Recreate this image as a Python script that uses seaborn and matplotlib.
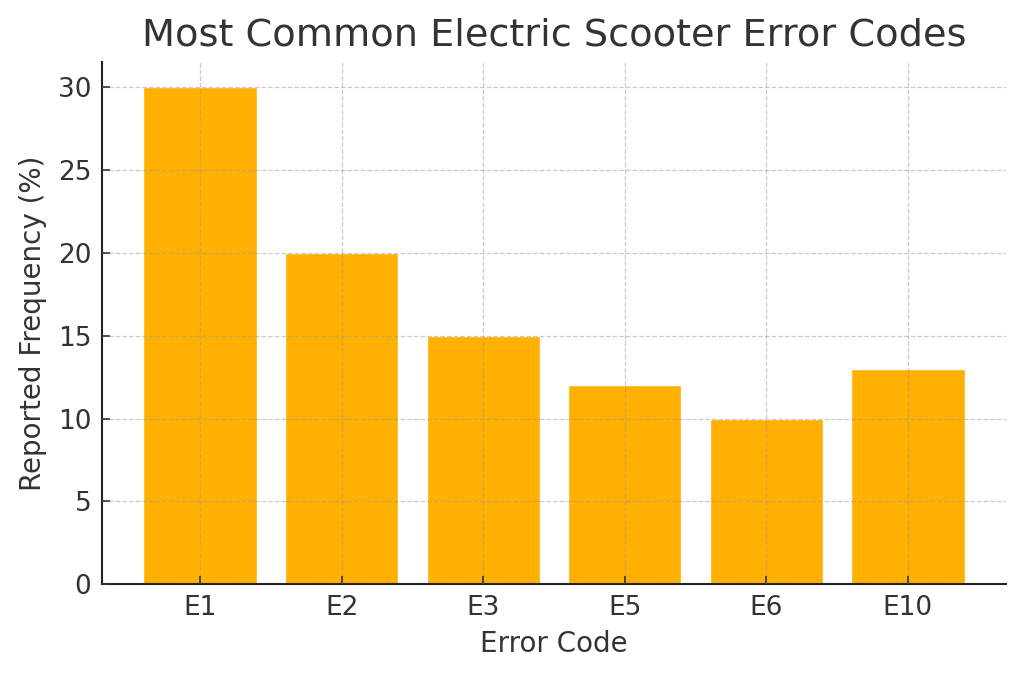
import matplotlib
matplotlib.use("Agg")
import matplotlib.pyplot as plt
import seaborn as sns
import pandas as pd

codes = ["E1", "E2", "E3", "E5", "E6", "E10"]
freq = [30, 20, 15, 12, 10, 13]

sns.set_theme(style="white")
plt.rcParams['font.family'] = ['DejaVu Sans']
text_color = "#333333"

df = pd.DataFrame({"Error Code": codes, "Reported Frequency (%)": freq})

fig, ax = plt.subplots(figsize=(10.24, 6.77), dpi=100)
sns.barplot(data=df, x="Error Code", y="Reported Frequency (%)", color="#FFB000",
            saturation=1, width=0.8, ax=ax)

ax.set_title("Most Common Electric Scooter Error Codes", fontsize=27.5, color=text_color, pad=12)
ax.set_xlabel("Error Code", fontsize=20, color=text_color, labelpad=6)
ax.set_ylabel("Reported Frequency (%)", fontsize=20, color=text_color, labelpad=8)
ax.tick_params(axis="both", labelsize=19, colors=text_color, direction="in", length=6, width=1.2,
               left=True, bottom=True, pad=8)
ax.set_yticks([0, 5, 10, 15, 20, 25, 30])
ax.set_ylim(0, 31.5)
ax.set_xlim(-0.69, len(codes) - 1 + 0.69)
ax.grid(True, linestyle="--", color="#999999", alpha=0.5, linewidth=0.9)
ax.set_axisbelow(False)
for s in ["top", "right"]:
    ax.spines[s].set_visible(False)
for s in ["left", "bottom"]:
    ax.spines[s].set_color("#222222")
    ax.spines[s].set_linewidth(1.5)

fig.subplots_adjust(left=0.1, right=0.982, top=0.908, bottom=0.137)
fig.savefig("out.png", dpi=100)
